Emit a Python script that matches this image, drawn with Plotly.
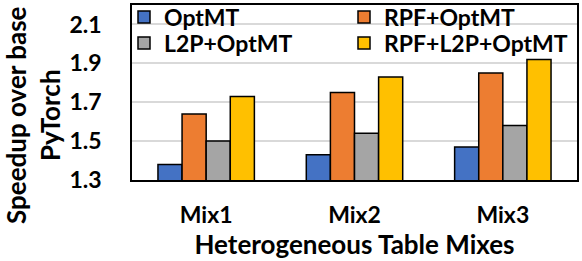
import plotly.graph_objects as go

categories = ["Mix1", "Mix2", "Mix3"]
series_names = ["OptMT", "RPF+OptMT", "L2P+OptMT", "RPF+L2P+OptMT"]
optmt = [1.38, 1.43, 1.47]
rpf_optmt = [1.64, 1.75, 1.85]
l2p_optmt = [1.50, 1.54, 1.58]
rpf_l2p_optmt = [1.73, 1.83, 1.92]
y_ticks = [1.3, 1.5, 1.7, 1.9, 2.1]
y_tick_labels = ["1.3", "1.5", "1.7", "1.9", "2.1"]
colors = ["#4472C4", "#ED7D31", "#A5A5A5", "#FFC000"]

FONT = "Lato"
W, H = 582, 261
ML, MR, MT, MB = 132, 5, 5, 81
PW, PH = W - ML - MR, H - MT - MB


def px_x(x):
    return (x - ML) / PW


def px_y(y):
    return (H - MB - y) / PH


# legend placement (pixel positions of each entry: text start x, row center y)
legend_pos = [(164, 17), (384, 17), (164, 43), (384, 43)]
legend_ids = ["legend", "legend2", "legend3", "legend4"]

fig = go.Figure()
for name, vals, col, lid in zip(series_names, [optmt, rpf_optmt, l2p_optmt, rpf_l2p_optmt], colors, legend_ids):
    fig.add_trace(go.Bar(
        x=categories, y=vals, name=name, legend=lid,
        marker=dict(color=col, line=dict(color="black", width=1.5)),
    ))

layout_legends = {}
for lid, (tx, ty) in zip(legend_ids, legend_pos):
    layout_legends[lid] = dict(
        x=px_x(tx - 40), y=px_y(ty), xanchor="left", yanchor="middle",
        bgcolor="rgba(0,0,0,0)", borderwidth=0,
        font=dict(size=23, family=FONT, weight="bold", color="black"),
    )

fig.update_layout(
    width=W, height=H,
    margin=dict(l=ML, r=MR, t=MT, b=MB, autoexpand=False),
    plot_bgcolor="white", paper_bgcolor="white",
    barmode="group", bargap=0.35, bargroupgap=0,
    font=dict(family=FONT, size=22, color="black", weight="bold"),
    showlegend=True,
    xaxis=dict(
        showline=True, linecolor="black", linewidth=1.5, mirror=True,
        ticks="", ticklabelstandoff=14, automargin=False,
        tickfont=dict(size=23, family=FONT, weight="bold"),
        title=dict(text="Heterogeneous Table Mixes", standoff=2,
                   font=dict(size=26, family=FONT, weight="bold")),
    ),
    yaxis=dict(
        range=[1.3, 2.2], tickvals=y_ticks, ticktext=y_tick_labels,
        showline=True, linecolor="black", linewidth=1.5, mirror=True,
        showgrid=True, gridcolor="#D9D9D9", gridwidth=1.5,
        ticks="", ticklabelstandoff=24, zeroline=False, automargin=False,
        tickfont=dict(size=23, family=FONT, weight="bold"),
    ),
    annotations=[
        dict(text="Speedup over base<br>PyTorch", textangle=-90,
             xref="paper", yref="paper", x=px_x(33), y=px_y(115),
             xanchor="center", yanchor="middle", showarrow=False,
             font=dict(size=26, family=FONT, weight="bold"), align="center"),
    ],
    **layout_legends,
)

fig.write_html("out.html", config={"displayModeBar": False},
               post_script="document.body.style.margin='0';")
